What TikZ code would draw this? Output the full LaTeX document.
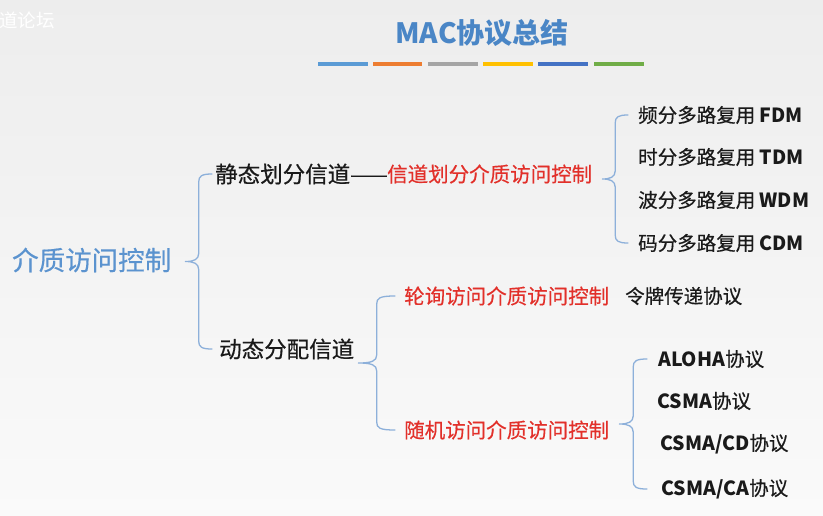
\documentclass[tikz,border=0pt]{standalone}
\usepackage{fontspec}
\setmainfont{Noto Sans CJK SC}
\newfontfamily\cjkmed{Noto Sans CJK SC}[FakeBold=0.45]
\newcommand\lat[1]{{\normalfont\bfseries #1}}
\usetikzlibrary{calc}
\definecolor{titleblue}{HTML}{4A86C6}
\definecolor{rootblue}{HTML}{5B93CF}
\definecolor{bracec}{HTML}{8DB0DA}
\definecolor{redt}{HTML}{E2302A}
\definecolor{blackt}{HTML}{1A1A1A}
\definecolor{barA}{HTML}{5B9BD5}
\definecolor{barB}{HTML}{ED7D31}
\definecolor{barC}{HTML}{A5A5A5}
\definecolor{barD}{HTML}{FFC000}
\definecolor{barE}{HTML}{4472C4}
\definecolor{barF}{HTML}{70AD47}
\tikzset{
  txt/.style={inner sep=0pt, anchor=west, text=blackt},
  titletxt/.style={inner sep=0pt, text=titleblue, font=\fontsize{28}{31}\selectfont\bfseries},
  roottxt/.style={txt, text=rootblue, font=\cjkmed\fontsize{26.5}{30}\selectfont},
  lvlone/.style={txt, font=\cjkmed\fontsize{22.5}{26}\selectfont},
  redtxt/.style={txt, text=redt, font=\cjkmed\fontsize{20.5}{24}\selectfont},
  leaf/.style={txt, font=\cjkmed\fontsize{19.5}{23}\selectfont},
  bracepath/.style={draw=bracec, line width=1.3pt, line cap=round, line join=round}
}
% parent, top child, bottom child, tip gap, end gap
\newcommand\bracelink[5]{%
  \path[bracepath] let \p1=(#1.east), \p2=(#2.west), \p3=(#3.west),
    \n1={\x1+#4}, \n2={\x2-#5}, \n3={(\n1+\n2)/2}, \n4={(\y2+\y3)/2} in
    (\n2,\y2) .. controls ({\n3+3},\y2) and (\n3,{\y2-2}) .. (\n3,{\y2-8})
    -- (\n3,{\n4+8}) .. controls (\n3,{\n4+2}) and ({\n3-5},\n4) .. (\n1,\n4)
    .. controls ({\n3-5},\n4) and (\n3,{\n4-2}) .. (\n3,{\n4-8})
    -- (\n3,{\y3+8}) .. controls (\n3,{\y3+2}) and ({\n3+3},\y3) .. (\n2,\y3);}
\begin{document}
\begin{tikzpicture}[x=1pt,y=1pt]
\fill[top color=black!7, bottom color=black!2] (0,0) rectangle (823,-515);
\useasboundingbox (0,0) rectangle (823,-515);
\node[inner sep=0pt, anchor=west, text=white, font=\fontsize{18.5}{21}\selectfont] (wm) at (-1,-20) {道论坛};
% title
\node[titletxt] (title) at (482,-33) {MAC协议总结};
\fill[barA] (318,-62) rectangle (368,-66);
\fill[barB] (373,-62) rectangle (422,-66);
\fill[barC] (428,-62) rectangle (478,-66);
\fill[barD] (483,-62) rectangle (533,-66);
\fill[barE] (538,-62) rectangle (588,-66);
\fill[barF] (594,-62) rectangle (644,-66);
% nodes
\node[roottxt] (root) at (12,-260) {介质访问控制};
\node[lvlone] (s1) at (215,-174) {静态划分信道——};
\node[redtxt] (s1r) at (387,-174) {信道划分介质访问控制};
\node[leaf] (f1) at (638,-115) {频分多路复用 \lat{FDM}};
\node[leaf] (f2) at (638,-157) {时分多路复用 \lat{TDM}};
\node[leaf] (f3) at (638,-200) {波分多路复用 \lat{WDM}};
\node[leaf] (f4) at (638,-243) {码分多路复用 \lat{CDM}};
\node[lvlone] (d1) at (219,-349) {动态分配信道};
\node[redtxt] (p1) at (404,-296) {轮询访问介质访问控制};
\node[leaf] (p2) at (625,-296) {令牌传递协议};
\node[redtxt] (r1) at (404,-430) {随机访问介质访问控制};
\node[leaf] (a1) at (658,-359) {\lat{ALOHA}协议};
\node[leaf] (a2) at (657,-401) {\lat{CSMA}协议};
\node[leaf] (a3) at (660,-444) {\lat{CSMA/CD}协议};
\node[leaf] (a4) at (661,-489) {\lat{CSMA/CA}协议};
% braces
\bracelink{root}{s1}{d1}{14}{3}
\bracelink{s1r}{f1}{f4}{10}{10}
\bracelink{d1}{p1}{r1}{4}{9}
\bracelink{r1}{a1}{a4}{10}{11}
\end{tikzpicture}
\end{document}
